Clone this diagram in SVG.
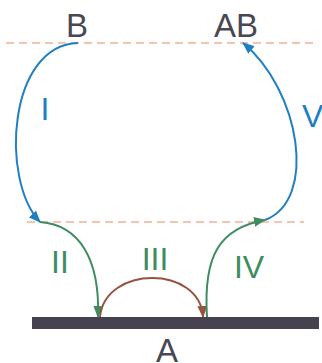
<svg xmlns="http://www.w3.org/2000/svg" width="322" height="363" viewBox="0 0 322 363">
<style>
.lbl{font-family:"Liberation Sans",Arial,sans-serif;font-size:32px}
.node{fill:#4a4754;text-anchor:middle;font-size:33px}
.blue{fill:#1f7fc2}
.green{fill:#3f8c62}
.dash{stroke:#f0b298;stroke-width:1.3;stroke-dasharray:8 5;fill:none}
.c{fill:none;stroke-width:2}
</style>
<defs>
<marker id="ab" markerUnits="userSpaceOnUse" markerWidth="12" markerHeight="10" refX="11" refY="5" orient="auto"><path d="M0,0 L12,5 L0,10 z" fill="#1f7fc2"/></marker>
<marker id="ag" markerUnits="userSpaceOnUse" markerWidth="12" markerHeight="10" refX="11" refY="5" orient="auto"><path d="M0,0 L12,5 L0,10 z" fill="#3f8c62"/></marker>
<marker id="ar" markerUnits="userSpaceOnUse" markerWidth="12" markerHeight="10" refX="11" refY="5" orient="auto"><path d="M0,0 L12,5 L0,10 z" fill="#94543f"/></marker>
</defs>
<g id="levels">
<line class="dash" x1="6" y1="43" x2="316" y2="43"/>
<line class="dash" x1="27" y1="222" x2="304" y2="222"/>
</g>
<g id="surface"><rect x="32" y="317" width="287" height="12" fill="#46424f"/></g>
<g id="connectors">
<path class="c" stroke="#1f7fc2" marker-end="url(#ab)" d="M78,43 C8,45 0,180 40,222"/>
<path class="c" stroke="#3f8c62" marker-end="url(#ag)" d="M40,222 C80,225 100,260 98,317"/>
<path class="c" stroke="#94543f" marker-end="url(#ar)" d="M100,317 C105,265 200,265 203,317"/>
<path class="c" stroke="#3f8c62" marker-end="url(#ag)" d="M207,317 C203,255 220,228 265,220"/>
<path class="c" stroke="#1f7fc2" marker-end="url(#ab)" d="M265,220 C318,200 300,90 243,43"/>
</g>
<g id="node-B"><text class="lbl node" x="77" y="37">B</text></g>
<g id="node-AB"><text class="lbl node" x="236" y="37">AB</text></g>
<g id="node-A"><text class="lbl node" x="167" y="362">A</text></g>
<g id="labels">
<text class="lbl blue" x="45" y="120" text-anchor="middle">I</text>
<text class="lbl blue" x="302" y="127">V</text>
<text class="lbl green" x="60" y="273" text-anchor="middle">II</text>
<text class="lbl green" x="155" y="270" text-anchor="middle">III</text>
<text class="lbl green" x="249" y="278" text-anchor="middle">IV</text>
</g>
</svg>
